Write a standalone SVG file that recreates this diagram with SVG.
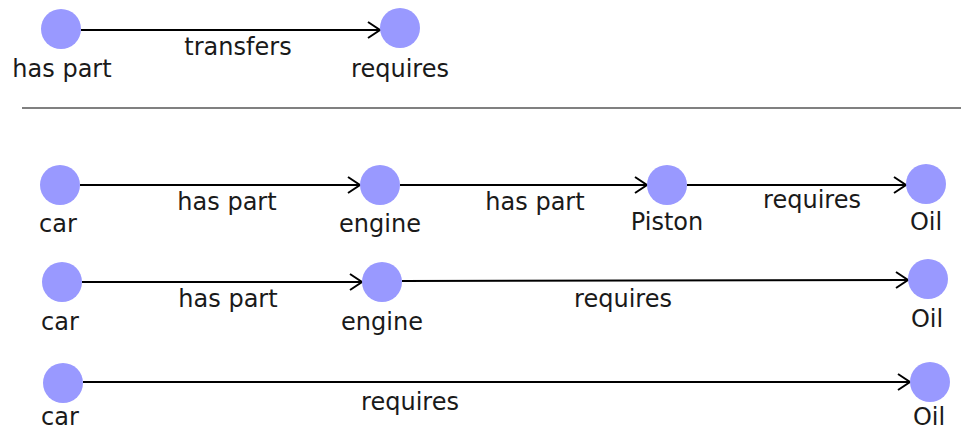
<svg xmlns="http://www.w3.org/2000/svg" width="961" height="432" viewBox="0 0 961 432">
<defs>
<marker id="arr" markerUnits="userSpaceOnUse" markerWidth="16" markerHeight="20" refX="14" refY="10" orient="auto">
<path d="M2,2 L14,10 L2,18" fill="none" stroke="#000" stroke-width="2"/>
</marker>
</defs>
<style>
.n{fill:#9999ff}
.e{stroke:#000;stroke-width:2;fill:none;marker-end:url(#arr)}
text{font-family:"DejaVu Sans",Verdana,sans-serif;font-size:24px;fill:#1a1a1a;text-anchor:middle}
</style>
<rect width="961" height="432" fill="#fff"/>
<line x1="22" y1="108" x2="961" y2="108" stroke="#808080" stroke-width="2"/>
<g id="connectors">
<line class="e" x1="81" y1="30" x2="380" y2="30"/>
<text x="238" y="55">transfers</text>
<line class="e" x1="80" y1="185" x2="360" y2="185"/>
<text x="227" y="210">has part</text>
<line class="e" x1="400" y1="185" x2="647" y2="185"/>
<text x="535" y="210">has part</text>
<line class="e" x1="687" y1="185" x2="906" y2="185"/>
<text x="812" y="208">requires</text>
<line class="e" x1="82" y1="282" x2="362" y2="282"/>
<text x="228" y="307">has part</text>
<line class="e" x1="402" y1="281" x2="908" y2="280"/>
<text x="623" y="307">requires</text>
<line class="e" x1="83" y1="382" x2="910" y2="382"/>
<text x="410" y="410">requires</text>
</g>
<g id="n-haspart"><circle class="n" cx="61" cy="29" r="20"/><text x="62" y="77">has part</text></g>
<g id="n-requires"><circle class="n" cx="400" cy="28" r="20"/><text x="400" y="77">requires</text></g>
<g id="n-car1"><circle class="n" cx="60" cy="185" r="20"/><text x="58" y="232">car</text></g>
<g id="n-engine1"><circle class="n" cx="380" cy="185" r="20"/><text x="380" y="232">engine</text></g>
<g id="n-piston"><circle class="n" cx="667" cy="185" r="20"/><text x="667" y="230">Piston</text></g>
<g id="n-oil1"><circle class="n" cx="926" cy="184" r="20"/><text x="926" y="230">Oil</text></g>
<g id="n-car2"><circle class="n" cx="62" cy="282" r="20"/><text x="60" y="330">car</text></g>
<g id="n-engine2"><circle class="n" cx="382" cy="282" r="20"/><text x="382" y="330">engine</text></g>
<g id="n-oil2"><circle class="n" cx="928" cy="279" r="20"/><text x="927" y="327">Oil</text></g>
<g id="n-car3"><circle class="n" cx="63" cy="383" r="20"/><text x="60" y="425">car</text></g>
<g id="n-oil3"><circle class="n" cx="930" cy="382" r="20"/><text x="929" y="425">Oil</text></g>
</svg>
